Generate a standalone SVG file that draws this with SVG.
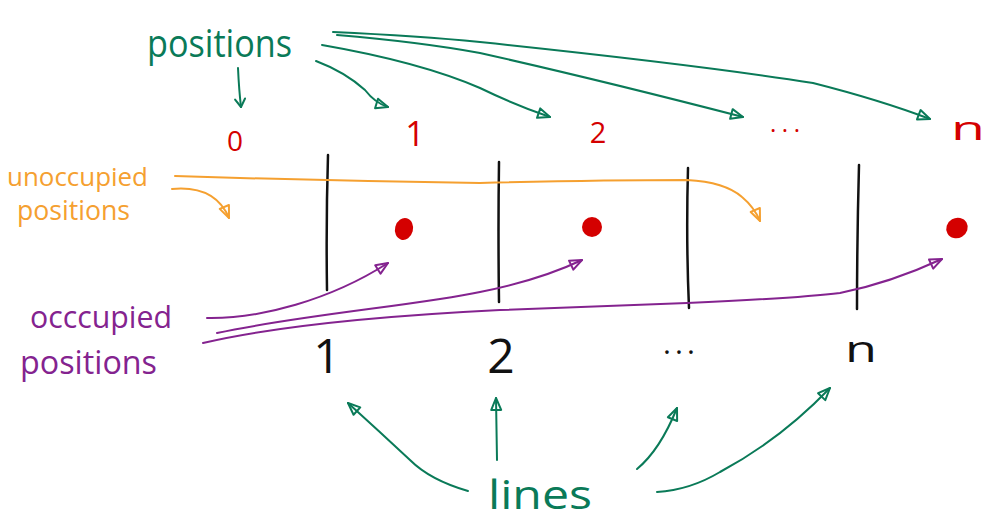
<svg xmlns="http://www.w3.org/2000/svg" width="990" height="527" viewBox="0 0 990 527">
<style>
text{font-family:"Open Sans","Liberation Sans",sans-serif;}
.g{fill:#0a7a58}.o{fill:#f5a030}.p{fill:#84238f}.r{fill:#d40000}.k{fill:#111}
.c{fill:none;stroke-width:2;stroke-linecap:round;stroke-linejoin:round}
.cg{stroke:#0a7a58}.co{stroke:#f5a030}.cp{stroke:#84238f}
.vl{fill:none;stroke:#111;stroke-width:2.5;stroke-linecap:round}
</style>
<defs>
<marker id="ag" markerUnits="userSpaceOnUse" markerWidth="16" markerHeight="14" refX="13" refY="6" orient="auto" overflow="visible"><path d="M1,1 L13,6 L1,11 Z" fill="none" stroke="#0a7a58" stroke-width="2" stroke-linejoin="round"/></marker>
<marker id="ao" markerUnits="userSpaceOnUse" markerWidth="16" markerHeight="14" refX="13" refY="6" orient="auto" overflow="visible"><path d="M1,1 L13,6 L1,11 Z" fill="none" stroke="#f5a030" stroke-width="2" stroke-linejoin="round"/></marker>
<marker id="ap" markerUnits="userSpaceOnUse" markerWidth="16" markerHeight="14" refX="13" refY="6" orient="auto" overflow="visible"><path d="M1,1 L13,6 L1,11 Z" fill="none" stroke="#84238f" stroke-width="2" stroke-linejoin="round"/></marker>
<marker id="agd" markerUnits="userSpaceOnUse" markerWidth="12" markerHeight="12" refX="9" refY="5" orient="auto" overflow="visible"><path d="M1,0 L9,5 L1,10" fill="none" stroke="#0a7a58" stroke-width="2" stroke-linejoin="round" stroke-linecap="round"/></marker>
</defs>
<rect width="990" height="527" fill="#fff"/>

<g id="label-positions"><text class="g" x="147" y="57" font-size="38" textLength="145" lengthAdjust="spacingAndGlyphs">positions</text></g>
<g id="label-unoccupied"><text class="o" x="7" y="186" font-size="26" textLength="141" lengthAdjust="spacingAndGlyphs">unoccupied</text><text class="o" x="17" y="220" font-size="27" textLength="113" lengthAdjust="spacingAndGlyphs">positions</text></g>
<g id="label-occupied"><text class="p" x="30" y="328" font-size="31" textLength="142" lengthAdjust="spacingAndGlyphs">occcupied</text><text class="p" x="20" y="374" font-size="32" textLength="137" lengthAdjust="spacingAndGlyphs">positions</text></g>
<g id="label-lines"><text class="g" x="488" y="509" font-size="40" textLength="104" lengthAdjust="spacingAndGlyphs">lines</text></g>

<g id="pos-0"><text class="r" x="235" y="151" font-size="28" text-anchor="middle">0</text></g>
<g id="pos-1"><text class="r" x="415" y="146" font-size="34" text-anchor="middle">1</text></g>
<g id="pos-2"><text class="r" x="598" y="143" font-size="29" text-anchor="middle">2</text></g>
<g id="pos-dots"><text class="r" x="770" y="132" font-size="24" textLength="30" lengthAdjust="spacing">...</text></g>
<g id="pos-n"><text class="r" x="951" y="140" font-size="32" textLength="34" lengthAdjust="spacingAndGlyphs">n</text></g>

<g id="line-1"><path class="vl" d="M328,155 Q326,220 327,290"/><text class="k" x="327" y="373" font-size="48" text-anchor="middle">1</text></g>
<g id="line-2"><path class="vl" d="M499,162 Q498,230 499,302"/><text class="k" x="501" y="373" font-size="48" text-anchor="middle">2</text></g>
<g id="line-dots"><path class="vl" d="M688,168 Q686,240 689,308"/><text class="k" x="663" y="354" font-size="30" textLength="32" lengthAdjust="spacing">...</text></g>
<g id="line-n"><path class="vl" d="M859,165 Q857,240 857,309"/><text class="k" x="845" y="362" font-size="36" textLength="32" lengthAdjust="spacingAndGlyphs">n</text></g>

<g id="dot-1"><ellipse class="r" cx="404" cy="229" rx="9" ry="11" transform="rotate(15 404 229)"/></g>
<g id="dot-2"><ellipse class="r" cx="592" cy="227" rx="10" ry="10"/></g>
<g id="dot-3"><ellipse class="r" cx="957" cy="228" rx="11" ry="10" transform="rotate(-30 957 228)"/></g>

<g id="connectors">
<path class="c cg" d="M238,68 Q239,90 241,107" marker-end="url(#agd)"/>
<path class="c cg" d="M316,61 Q345,72 365,90 Q375,103 388,107" marker-end="url(#ag)"/>
<path class="c cg" d="M322,45 Q420,62 480,88 Q515,105 550,117" marker-end="url(#ag)"/>
<path class="c cg" d="M337,35 Q420,42 480,53 Q600,80 743,117" marker-end="url(#ag)"/>
<path class="c cg" d="M333,32 Q420,36 480,42 Q700,65 813,83 Q880,100 930,119" marker-end="url(#ag)"/>

<path class="c co" d="M175,176 Q330,181 480,183 Q600,180 687,180 Q725,182 742,197 Q754,207 760,221" marker-end="url(#ao)"/>
<path class="c co" d="M172,189 Q215,185 229,218" marker-end="url(#ao)"/>

<path class="c cp" d="M207,318 C260,319 330,300 388,263" marker-end="url(#ap)"/>
<path class="c cp" d="M217,333 C300,315 420,305 480,292 Q540,280 582,260" marker-end="url(#ap)"/>
<path class="c cp" d="M203,343 C280,325 400,315 500,310 L687,303 Q800,298 840,293 Q890,283 942,259" marker-end="url(#ap)"/>

<path class="c cg" d="M468,491 Q430,480 410,460 Q380,432 348,403" marker-end="url(#ag)"/>
<path class="c cg" d="M497,460 L496,398" marker-end="url(#ag)"/>
<path class="c cg" d="M637,469 Q660,450 677,408" marker-end="url(#ag)"/>
<path class="c cg" d="M657,492 Q690,490 720,472 Q780,440 830,388" marker-end="url(#ag)"/>
</g>
</svg>
